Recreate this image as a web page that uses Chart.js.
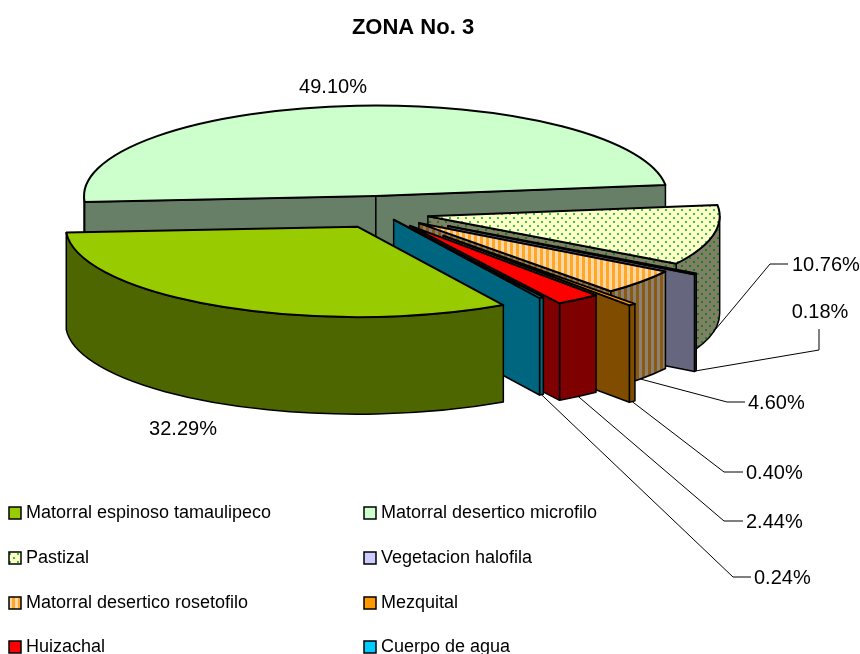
<!DOCTYPE html>
<html>
<head>
<meta charset="utf-8">
<style>
  html, body { margin: 0; padding: 0; background: #fff; overflow: hidden; }
  canvas { display: block; }
</style>
<script src="https://cdn.jsdelivr.net/npm/chart.js@4"></script>
</head>
<body>
<canvas id="zonaChart" width="860" height="654"></canvas>
<script>
const categories = ['Matorral espinoso tamaulipeco', 'Matorral desertico microfilo', 'Pastizal', 'Vegetacion halofila',
  'Matorral desertico rosetofilo', 'Mezquital', 'Huizachal', 'Cuerpo de agua'];
const shares = [32.29, 49.10, 10.76, 0.18, 4.60, 0.40, 2.44, 0.24];

/* how the flat pie is turned into the tilted one */
const centerX = 381, centerY = 213, squash = 0.31, depth = 97;
const explode = [50, 55, 48, 79, 50, 96, 50, 25];

/* where the percent labels sit; elbow is the bend of the leader line, if it has one */
const labelSpots = [
  { x: 183, y: 429, align: 'center' },
  { x: 333, y: 87, align: 'center' },
  { x: 792, y: 265, align: 'left', elbow: [[770, 264], [788, 264]] },
  { x: 820, y: 312, align: 'center', elbow: [[819, 350], [819, 329]] },
  { x: 748, y: 403, align: 'left', elbow: [[727, 402], [745, 402]] },
  { x: 746, y: 473, align: 'left', elbow: [[724, 472], [743, 472]] },
  { x: 746, y: 522, align: 'left', elbow: [[724, 521], [743, 521]] },
  { x: 754, y: 578, align: 'left', elbow: [[733, 577], [751, 577]] }
];
const legendSpots = [[9, 513], [364, 513], [9, 558], [364, 558], [9, 603], [364, 603], [9, 647], [364, 647]];

function dots(back, dot) {
  const c = document.createElement('canvas');
  c.width = c.height = 8;
  const x = c.getContext('2d');
  x.fillStyle = back;
  x.fillRect(0, 0, 8, 8);
  x.fillStyle = dot;
  x.fillRect(1, 1, 2, 2);
  x.fillRect(5, 5, 2, 2);
  return x.createPattern(c, 'repeat');
}

function stripes(a, b) {
  const c = document.createElement('canvas');
  c.width = 6;
  c.height = 1;
  const x = c.getContext('2d');
  x.fillStyle = a;
  x.fillRect(0, 0, 3, 1);
  x.fillStyle = b;
  x.fillRect(3, 0, 3, 1);
  return x.createPattern(c, 'repeat');
}

const topColors = ['#99cc00', '#ccffcc', dots('#ffffcc', '#33cc33'), '#ccccff',
  stripes('#ffa726', '#ffd8a8'), '#ff9900', '#ff0000', '#00ccff'];
const wallColors = ['#4d6600', '#667f66', dots('#7f7f66', '#1a801a'), '#66667f',
  stripes('#8a5a14', '#8c8273'), '#7f4c00', '#7f0000', '#00667f'];

function sliceOrigin(arc, i) {
  const mid = (arc.startAngle + arc.endAngle) / 2;
  return {
    x: centerX + explode[i] * Math.cos(mid),
    y: centerY + explode[i] * squash * Math.sin(mid)
  };
}

function sideWall(ctx, o, r, a) {
  const px = o.x + r * Math.cos(a), py = o.y + r * squash * Math.sin(a);
  ctx.beginPath();
  ctx.moveTo(o.x, o.y);
  ctx.lineTo(px, py);
  ctx.lineTo(px, py + depth);
  ctx.lineTo(o.x, o.y + depth);
  ctx.closePath();
  ctx.fill();
  ctx.stroke();
}

function drawSlice(ctx, arc, i) {
  const o = sliceOrigin(arc, i);
  const r = arc.outerRadius, ry = r * squash;
  const a1 = arc.startAngle, a2 = arc.endAngle;
  ctx.strokeStyle = '#000';
  ctx.lineJoin = 'round';
  ctx.lineWidth = 1.5;
  ctx.fillStyle = wallColors[i];

  // outer skin, only the part turned to the viewer
  for (let k = -1; k <= 1; k++) {
    const s = Math.max(a1, k * 2 * Math.PI), e = Math.min(a2, k * 2 * Math.PI + Math.PI);
    if (e <= s) continue;
    ctx.beginPath();
    ctx.ellipse(o.x, o.y, r, ry, 0, s, e);
    ctx.ellipse(o.x, o.y + depth, r, ry, 0, e, s, true);
    ctx.closePath();
    ctx.fill();
    ctx.stroke();
  }

  // cut faces
  if (Math.cos(a1) < 0) sideWall(ctx, o, r, a1);
  if (Math.cos(a2) > 0) sideWall(ctx, o, r, a2);

  // top
  ctx.fillStyle = topColors[i];
  ctx.lineWidth = 2;
  ctx.beginPath();
  ctx.moveTo(o.x, o.y);
  ctx.ellipse(o.x, o.y, r, ry, 0, a1, a2);
  ctx.closePath();
  ctx.fill();
  ctx.stroke();
}

const tiltedPie = {
  id: 'tiltedPie',
  beforeDatasetDraw(chart) {
    const ctx = chart.ctx;
    const arcs = chart.getDatasetMeta(0).data;
    const order = arcs.map((a, i) => i).sort((p, q) =>
      Math.sin((arcs[p].startAngle + arcs[p].endAngle) / 2) - Math.sin((arcs[q].startAngle + arcs[q].endAngle) / 2));
    ctx.save();
    order.forEach(i => drawSlice(ctx, arcs[i], i));
    ctx.restore();
    return false;
  },
  afterDraw(chart) {
    const ctx = chart.ctx;
    const arcs = chart.getDatasetMeta(0).data;
    ctx.save();
    ctx.textBaseline = 'middle';

    // percent labels and leader lines
    ctx.font = '20px "Liberation Sans"';
    ctx.fillStyle = '#000';
    ctx.strokeStyle = '#000';
    ctx.lineWidth = 1;
    arcs.forEach((arc, i) => {
      const spot = labelSpots[i];
      if (spot.elbow) {
        const o = sliceOrigin(arc, i);
        const mid = (arc.startAngle + arc.endAngle) / 2;
        ctx.beginPath();
        ctx.moveTo(o.x + arc.outerRadius * Math.cos(mid), o.y + arc.outerRadius * squash * Math.sin(mid) + depth);
        spot.elbow.forEach(p => ctx.lineTo(p[0], p[1]));
        ctx.stroke();
      }
      ctx.textAlign = spot.align;
      ctx.fillText(shares[i].toFixed(2) + '%', spot.x, spot.y);
    });

    // legend, two columns
    ctx.font = '18px "Liberation Sans"';
    ctx.textAlign = 'left';
    categories.forEach((name, i) => {
      const [x, y] = legendSpots[i];
      ctx.fillStyle = topColors[i];
      ctx.fillRect(x, y - 6, 12, 12);
      ctx.lineWidth = 1.5;
      ctx.strokeRect(x, y - 6, 12, 12);
      ctx.fillStyle = '#000';
      ctx.fillText(name, x + 17, y);
    });
    ctx.restore();
  }
};

new Chart(document.getElementById('zonaChart'), {
  type: 'pie',
  data: {
    labels: categories,
    datasets: [{
      data: shares,
      backgroundColor: topColors
    }]
  },
  options: {
    responsive: false,
    animation: false,
    rotation: 150,
    layout: { padding: { right: 34, bottom: 27 } },
    plugins: {
      legend: { display: false },
      tooltip: { enabled: false },
      title: {
        display: true,
        text: 'ZONA No. 3',
        color: '#000',
        font: { family: '"Liberation Sans"', size: 22, weight: 'bold' },
        padding: { top: 15, bottom: 0 }
      }
    }
  },
  plugins: [tiltedPie]
});
</script>
</body>
</html>
